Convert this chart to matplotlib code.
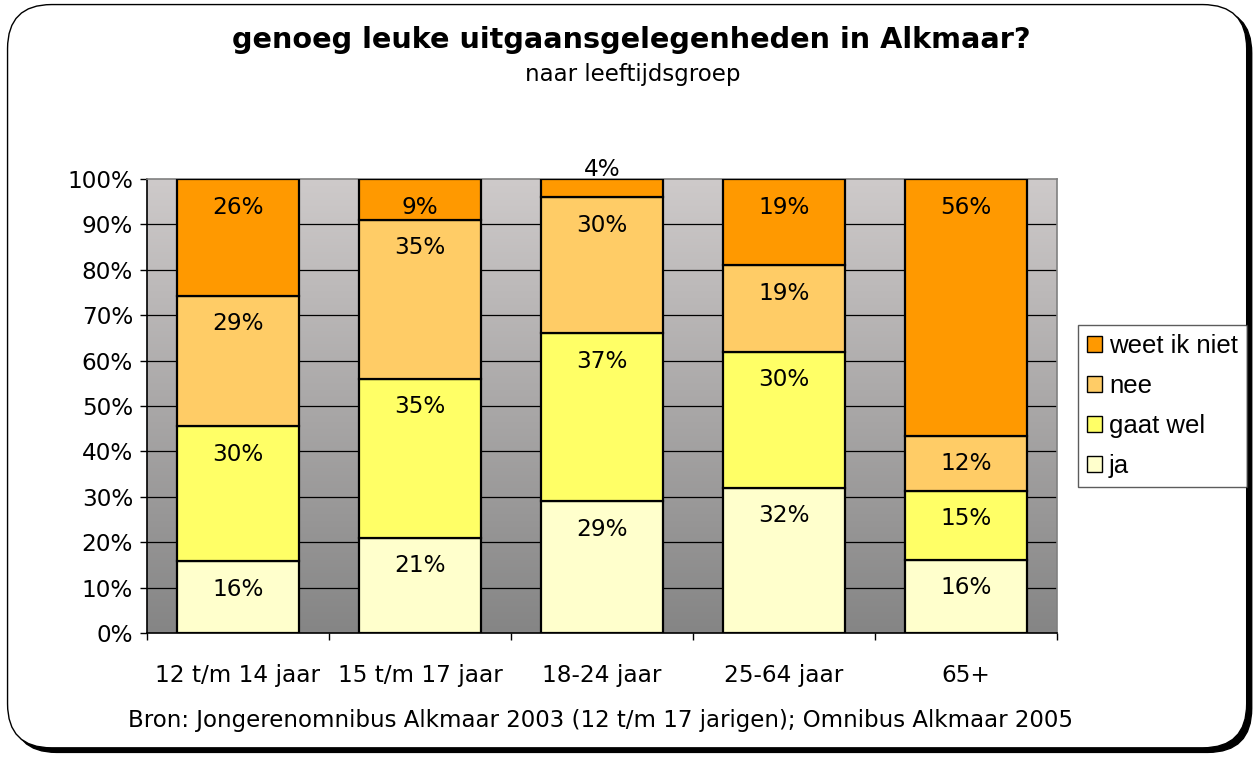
import numpy as np
import matplotlib
matplotlib.use("Agg")
import matplotlib.pyplot as plt
from matplotlib.patches import FancyBboxPatch, Patch
from matplotlib.colors import LinearSegmentedColormap

categories = ["12 t/m 14 jaar", "15 t/m 17 jaar", "18-24 jaar", "25-64 jaar", "65+"]
ja = [16, 21, 29, 32, 16]
gaat_wel = [30, 35, 37, 30, 15]
nee = [29, 35, 30, 19, 12]
weet_ik_niet = [26, 9, 4, 19, 56]
series_names = ["ja", "gaat wel", "nee", "weet ik niet"]
series_colors = ["#FFFFCC", "#FFFF66", "#FFCC66", "#FF9900"]
yticks = [0, 10, 20, 30, 40, 50, 60, 70, 80, 90, 100]

title = "genoeg leuke uitgaansgelegenheden in Alkmaar?"
subtitle = "naar leeftijdsgroep"
source = "Bron: Jongerenomnibus Alkmaar 2003 (12 t/m 17 jarigen); Omnibus Alkmaar 2005"

FONT = "DejaVu Sans"
plt.rcParams["font.family"] = [FONT]

fig = plt.figure(figsize=(12.58, 7.60), dpi=100)
fig.patch.set_facecolor("white")

# rounded frame with shadow
shadow = FancyBboxPatch((0.010, 0.010), 0.985, 0.978, boxstyle="round,pad=0,rounding_size=0.035",
                        transform=fig.transFigure, facecolor="black", edgecolor="black",
                        mutation_aspect=1258/760, zorder=0)
frame = FancyBboxPatch((0.006, 0.016), 0.985, 0.978, boxstyle="round,pad=0,rounding_size=0.035",
                       transform=fig.transFigure, facecolor="white", edgecolor="black", linewidth=1.0,
                       mutation_aspect=1258/760, zorder=1)
fig.patches.extend([shadow, frame])

ax = fig.add_axes([147/1258, 1 - 633/760, (1057 - 147)/1258, (633 - 179)/760])
ax.set_zorder(2)

# gradient background
cmap = LinearSegmentedColormap.from_list("bg", ["#858585", "#CECACA"])
grad = np.linspace(0, 1, 256).reshape(-1, 1)
ax.imshow(grad, extent=[-0.5, len(categories) - 0.5, 0, 100], origin="lower",
          aspect="auto", cmap=cmap, zorder=0)

data = np.array([ja, gaat_wel, nee, weet_ik_niet], dtype=float)
totals = data.sum(axis=0)
pct = data / totals * 100

x = np.arange(len(categories))
for yv in yticks[1:-1]:
    ax.axhline(yv, color="black", linewidth=0.9, zorder=1)

LBL = 16.7
bottom = np.zeros(len(categories))
for i, (name, col) in enumerate(zip(series_names, series_colors)):
    ax.bar(x, pct[i], bottom=bottom, width=0.674, color=col, edgecolor="black",
           linewidth=1.6, zorder=3, label=name)
    tops = bottom + pct[i]
    for j in range(len(categories)):
        if data[i, j] < 5:
            ax.annotate(f"{int(data[i, j])}%", (x[j], tops[j]), xytext=(0, 10),
                        textcoords="offset pixels", ha="center", va="center",
                        fontsize=LBL, zorder=5, annotation_clip=False)
        else:
            ax.annotate(f"{int(data[i, j])}%", (x[j], tops[j]), xytext=(0, -28),
                        textcoords="offset pixels", ha="center", va="center",
                        fontsize=LBL, zorder=5)
    bottom = tops

ax.set_xlim(-0.5, len(categories) - 0.5)
ax.set_ylim(0, 100)
ax.set_yticks(yticks)
ax.set_yticklabels([f"{v}%" for v in yticks], fontsize=LBL)
ax.set_xticks(x)
ax.set_xticklabels(categories, fontsize=LBL)
ax.set_xticks(np.arange(len(categories) + 1) - 0.5, minor=True)
ax.tick_params(axis="x", which="major", length=0, pad=22)
ax.tick_params(axis="x", which="minor", length=5, width=1, direction="out")
ax.tick_params(axis="y", length=5, width=1, direction="out", pad=5)

for s in ["left", "bottom"]:
    ax.spines[s].set_color("black")
    ax.spines[s].set_linewidth(1.2)
for s in ["top", "right"]:
    ax.spines[s].set_color("#808080")
    ax.spines[s].set_linewidth(1.2)

handles = [Patch(facecolor=c, edgecolor="black", label=n)
           for n, c in zip(series_names, series_colors)][::-1]
leg = fig.legend(handles=handles, loc="center left",
                 bbox_to_anchor=(1078/1258, 1 - 406/760),
                 prop={"family": "Liberation Sans", "size": 18.5},
                 frameon=True, fancybox=False, edgecolor="#333333",
                 handlelength=0.6, handleheight=0.6, handletextpad=0.25,
                 labelspacing=0.62, borderpad=0.35, borderaxespad=0)
leg.get_frame().set_linewidth(1.0)
leg.set_zorder(3)

fig.text(631/1258, 1 - 40/760, title, ha="center", va="center", fontsize=20.7,
         fontweight="bold", zorder=3)
fig.text(633/1258, 1 - 75/760, subtitle, ha="center", va="center", fontsize=16.5, zorder=3)
fig.text(601/1258, 1 - 720/760, source, ha="center", va="center", fontsize=16.5, zorder=3)

fig.savefig("out.png", dpi=100)
